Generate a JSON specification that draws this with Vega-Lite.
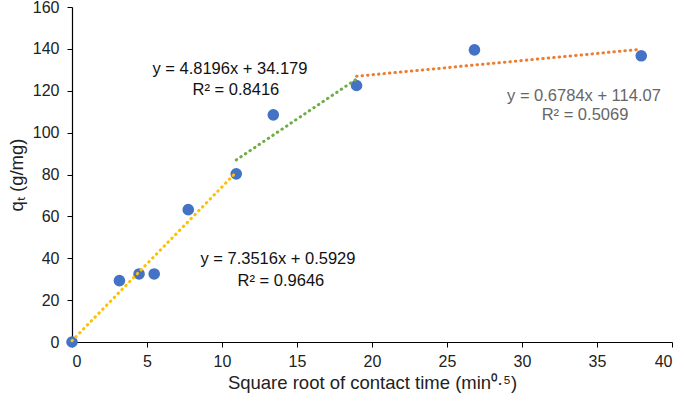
{
  "$schema": "https://vega.github.io/schema/vega-lite/v6.json",
  "width": 600,
  "height": 335,
  "autosize": {"type": "none"},
  "padding": {"left": 72, "top": 7, "right": 13, "bottom": 64},
  "background": "white",
  "config": {
    "view": {"stroke": null},
    "font": "Liberation Sans",
    "axis": {"grid": false, "domainColor": "#000", "tickColor": "#000", "labelColor": "#222", "titleColor": "#222", "labelFont": "Liberation Sans", "titleFont": "Liberation Sans", "labelFontSize": 16, "titleFontSize": 18.5, "titleFontWeight": "normal", "tickSize": 5, "domainWidth": 1.2}
  },
  "datasets": {
    "pts": [
      {"x": 0, "y": 0},
      {"x": 3.16, "y": 29.3},
      {"x": 4.47, "y": 32.5},
      {"x": 5.48, "y": 32.5},
      {"x": 7.75, "y": 63.2},
      {"x": 10.95, "y": 80.3},
      {"x": 13.42, "y": 108.5},
      {"x": 18.97, "y": 122.5},
      {"x": 26.83, "y": 139.5},
      {"x": 37.95, "y": 136.7}
    ],
    "lines": [
      {"x": 0, "y": 0.59, "s": "a"},
      {"x": 10.95, "y": 81.1, "s": "a"},
      {"x": 10.95, "y": 86.95, "s": "b"},
      {"x": 18.97, "y": 125.6, "s": "b"},
      {"x": 18.97, "y": 126.94, "s": "c"},
      {"x": 37.95, "y": 139.82, "s": "c"}
    ],
    "labels": [
      {"x": 10.53, "y": 130.4, "t": "y = 4.8196x + 34.179", "c": "#111"},
      {"x": 10.93, "y": 120.3, "t": "R² = 0.8416", "c": "#111"},
      {"x": 13.73, "y": 39.6, "t": "y = 7.3516x + 0.5929", "c": "#111"},
      {"x": 13.93, "y": 29.1, "t": "R² = 0.9646", "c": "#111"},
      {"x": 34.13, "y": 117.5, "t": "y = 0.6784x + 114.07", "c": "#666"},
      {"x": 34.2, "y": 108.4, "t": "R² = 0.5069", "c": "#666"}
    ]
  },
  "layer": [
    {
      "data": {"name": "pts"},
      "mark": {"type": "point", "filled": true, "size": 135, "color": "#4472C4", "opacity": 1},
      "encoding": {
        "x": {"field": "x", "type": "quantitative", "scale": {"domain": [0, 40], "nice": false},
          "axis": {"values": [0, 5, 10, 15, 20, 25, 30, 35, 40], "labelPadding": 6, "title": "Square root of contact time (min⁰·⁵)", "titleY": 40, "titleBaseline": "middle"}},
        "y": {"field": "y", "type": "quantitative", "scale": {"domain": [0, 160], "nice": false},
          "axis": {"values": [0, 20, 40, 60, 80, 100, 120, 140, 160], "labelPadding": 8, "title": "qₜ (g/mg)", "titleX": -56, "titleY": 167.5, "titleAngle": -90, "titleAlign": "center", "titleBaseline": "middle"}}
      }
    },
    {
      "data": {"name": "lines"},
      "mark": {"type": "line", "strokeWidth": 3, "strokeDash": [0.5, 5], "strokeCap": "round"},
      "encoding": {
        "x": {"field": "x", "type": "quantitative"},
        "y": {"field": "y", "type": "quantitative"},
        "detail": {"field": "s"},
        "color": {"field": "s", "type": "nominal", "scale": {"domain": ["a", "b", "c"], "range": ["#FFC000", "#70AD47", "#ED7D31"]}, "legend": null}
      }
    },
    {
      "data": {"name": "labels"},
      "mark": {"type": "text", "fontSize": 16.5, "font": "Liberation Sans", "align": "center", "baseline": "middle"},
      "encoding": {
        "x": {"field": "x", "type": "quantitative"},
        "y": {"field": "y", "type": "quantitative"},
        "text": {"field": "t"},
        "color": {"field": "c", "type": "nominal", "scale": null}
      }
    }
  ]
}
